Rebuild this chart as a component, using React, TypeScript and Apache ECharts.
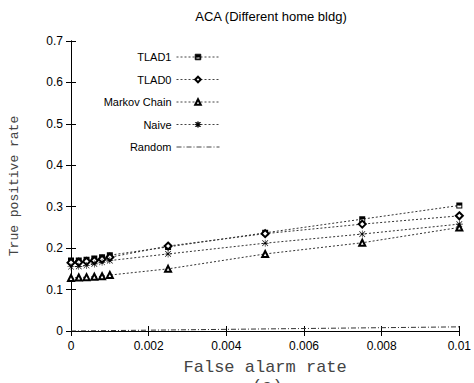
import React, { useEffect, useRef } from "react";
import * as echarts from "echarts";

const xValues = [0, 0.0002, 0.0004, 0.0006, 0.0008, 0.001, 0.0025, 0.005, 0.0075, 0.01];
const tlad1 = [0.17, 0.17, 0.172, 0.175, 0.178, 0.183, 0.203, 0.237, 0.27, 0.303];
const tlad0 = [0.165, 0.166, 0.168, 0.17, 0.173, 0.178, 0.205, 0.235, 0.258, 0.278];
const markov = [0.128, 0.129, 0.13, 0.131, 0.132, 0.135, 0.15, 0.186, 0.213, 0.25];
const naive = [0.155, 0.156, 0.158, 0.162, 0.166, 0.17, 0.186, 0.212, 0.234, 0.258];
const randomX = [0, 0.01];
const randomY = [0, 0.01];

const seriesNames = ["TLAD1", "TLAD0", "Markov Chain", "Naive", "Random"];
const titleText = "ACA (Different home bldg)";
const xTitle = "False alarm rate";
const yTitle = "True positive rate";

const halfSquare = "path://M0,0H10V10H0Z M1.6,5V8.4H8.4V5Z";
const asterisk =
  "path://M0,4.6H10V5.4H0Z M4.6,0H5.4V10H4.6Z M1.2,0.6L9.4,8.8L8.8,9.4L0.6,1.2Z M8.8,0.6L9.4,1.2L1.2,9.4L0.6,8.8Z";

const fmt = (v: number) => String(Number(v.toFixed(4)));

export default function App() {
  const ref = useRef<HTMLDivElement>(null);
  useEffect(() => {
    if (!ref.current) return;
    const chart = echarts.init(ref.current, null, { renderer: "svg" });
    const pair = (ys: number[]) => xValues.map((x, i) => [x, ys[i]]);
    const lineStyle = { color: "#333", width: 1, type: [2, 2] as any };
    const mk = (name: string, ys: number[], symbol: string, size: number, bw: number) => ({
      name,
      type: "line",
      data: pair(ys),
      symbol,
      symbolSize: size,
      showSymbol: true,
      lineStyle,
      itemStyle: { color: "#000", borderColor: "#000", borderWidth: bw },
      emphasis: { disabled: true },
    });
    const axisText = { color: "#000", fontFamily: "Liberation Sans, Arial", fontSize: 12 };
    chart.setOption({
      animation: false,
      title: {
        text: titleText,
        left: 266,
        textAlign: "center",
        top: 5,
        textStyle: { fontFamily: "Liberation Sans, Arial", fontSize: 13, fontWeight: "normal", color: "#000" },
      },
      grid: { left: 71, right: 13, top: 41, bottom: 52 },
      legend: {
        orient: "vertical",
        align: "right",
        right: 254,
        top: 50,
        padding: 0,
        itemWidth: 43,
        itemHeight: 7,
        itemGap: 8.5,
        itemStyle: { borderWidth: 0.8 },
        lineStyle: { color: "#444", width: 1 },
        textStyle: { fontFamily: "Liberation Sans, Arial", fontSize: 11, color: "#000", lineHeight: 14 },
        data: seriesNames,
      },
      xAxis: [
        {
          type: "value",
          min: 0,
          max: 0.01,
          interval: 0.002,
          name: xTitle,
          nameLocation: "middle",
          nameGap: 28,
          nameTextStyle: { fontFamily: "Liberation Mono, Courier New, monospace", fontSize: 17, color: "#444" },
          axisLine: { show: true, lineStyle: { color: "#000", width: 1 } },
          axisTick: { show: true, inside: true, length: 5, lineStyle: { color: "#000" } },
          axisLabel: { ...axisText, margin: 9, formatter: fmt },
          splitLine: { show: false },
        },
        {
          type: "value",
          position: "top",
          min: 0,
          max: 0.01,
          interval: 0.002,
          axisLine: { show: true, lineStyle: { color: "#000", width: 1 } },
          axisTick: { show: true, inside: true, length: 5, lineStyle: { color: "#000" } },
          axisLabel: { show: false },
          splitLine: { show: false },
        },
      ],
      yAxis: [
        {
          type: "value",
          min: 0,
          max: 0.7,
          interval: 0.1,
          name: yTitle,
          nameLocation: "middle",
          nameGap: 50,
          nameRotate: 90,
          nameTextStyle: { fontFamily: "Liberation Mono, Courier New, monospace", fontSize: 13, color: "#444" },
          axisLine: { show: true, lineStyle: { color: "#000", width: 1 } },
          axisTick: { show: true, inside: true, length: 5, lineStyle: { color: "#000" } },
          axisLabel: { ...axisText, margin: 8, formatter: fmt },
          splitLine: { show: false },
        },
        {
          type: "value",
          position: "right",
          min: 0,
          max: 0.7,
          interval: 0.1,
          axisLine: { show: true, lineStyle: { color: "#000", width: 1 } },
          axisTick: { show: true, inside: true, length: 5, lineStyle: { color: "#000" } },
          axisLabel: { show: false },
          splitLine: { show: false },
        },
      ],
      series: [
        mk("TLAD1", tlad1, halfSquare, 6, 0),
        mk("TLAD0", tlad0, "emptyDiamond", 7, 0.8),
        mk("Markov Chain", markov, "emptyTriangle", 6, 0.8),
        mk("Naive", naive, asterisk, 7, 0),
        {
          name: "Random",
          type: "line",
          data: randomX.map((x, i) => [x, randomY[i]]),
          symbol: "none",
          lineStyle: { color: "#333", width: 1, type: [5, 2, 1, 2] },
          itemStyle: { color: "#333", opacity: 0 },
          emphasis: { disabled: true },
        },
      ],
      graphic: [
        {
          type: "text",
          left: 252,
          top: 378,
          style: { text: "(a)", fontFamily: "Liberation Mono, Courier New, monospace", fontSize: 17, fill: "#444" },
        },
      ],
    });
    return () => chart.dispose();
  }, []);
  return <div ref={ref} style={{ position: "fixed", left: 0, top: 0, width: 474, height: 383, background: "#fff" }} />;
}
